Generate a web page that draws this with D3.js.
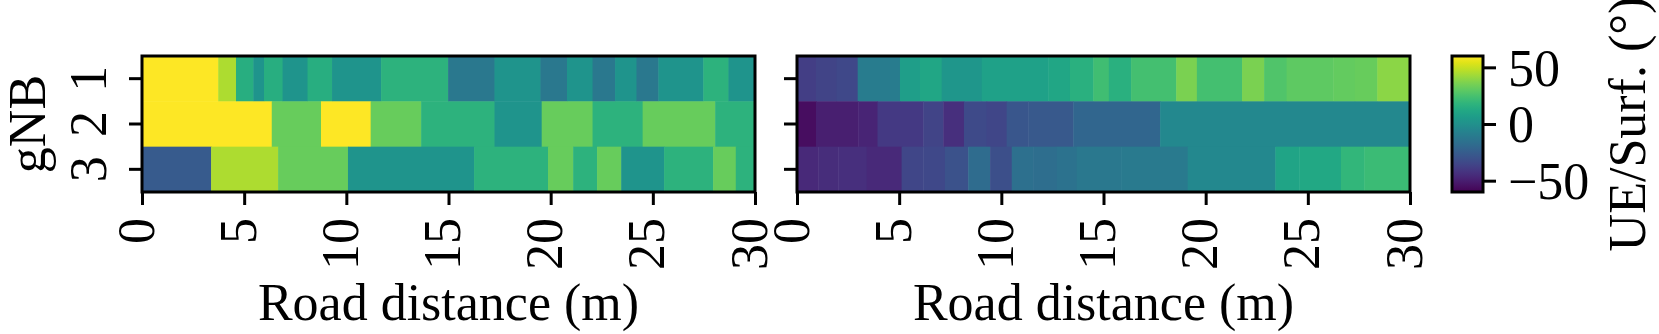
<!DOCTYPE html>
<html>
<head>
<meta charset="UTF-8">
<title>gNB heatmaps</title>
<script src="https://d3js.org/d3.v7.min.js"></script>
<style>
  body { margin: 0; background: #fff; }
  text { font-family: "Liberation Serif", "Times New Roman", serif; fill: #000; }
  .tick line { stroke: #000; stroke-width: 3; }
</style>
</head>
<body>
<script>
// rows of each heatmap
var gnbs = ["1", "2", "3"];
var xTicks = [0, 5, 10, 15, 20, 25, 30];
var cbTicks = [-50, 0, 50];

// left panel: start of every segment (m) and its value (deg), one list per gNB
var leftStarts = [
  [0, 3.73, 4.6, 5.45, 5.97, 6.88, 8.1, 9.3, 11.7, 14.98, 17.25, 19.5, 20.8, 22.05, 23.15, 24.2, 25.27, 27.47, 28.7],
  [0, 6.35, 8.76, 11.19, 13.66, 17.25, 19.56, 22.05, 24.5, 28.05],
  [0, 3.38, 6.66, 10.08, 16.25, 19.87, 21.1, 22.27, 23.45, 25.55, 27.95, 29.06]
];
var leftValues = [
  [64, 45, 15, 2, 15, 2, 15, 2, 17, -12, 2, -12, 2, -12, 2, -12, 2, 17, 2],
  [64, 32, 64, 32, 17, 2, 32, 17, 32, 17],
  [-26, 45, 32, 2, 17, 32, 17, 32, 2, 17, 32, 17]
];

// right panel
var rightStarts = [
  [0, 0.93, 1.94, 2.97, 5.04, 6.02, 7.08, 9.04, 12.3, 13.36, 14.5, 15.26, 16.35, 18.56, 19.57, 21.78, 22.86, 23.96, 26.24, 27.3, 28.4],
  [0, 0.93, 3.0, 3.94, 6.18, 7.16, 8.17, 9.28, 10.26, 11.32, 13.52, 17.77],
  [0, 1.04, 2.02, 3.41, 5.12, 6.18, 7.24, 8.38, 9.45, 10.51, 11.57, 12.71, 13.69, 15.86, 19.12, 23.41, 24.58, 26.62, 27.76]
];
var rightValues = [
  [-38, -36, -34, -10, 7, 11, 3, 8, 11, 16, 23, 16, 24, 36, 24, 36, 27, 30, 31, 32, 39],
  [-56, -50, -48, -40, -36, -44, -33, -35, -28, -27, -21, -4],
  [-46, -45, -44, -46, -35, -34, -30, -18, -31, -16, -17, -15, -12, -11, -4, 10, 12, 19, 22]
];

var W = 1659, H = 334;
var plotTop = 56, plotBottom = 192;
var panels = [
  {left: 142, right: 755, starts: leftStarts, values: leftValues, labels: true},
  {left: 797, right: 1410, starts: rightStarts, values: rightValues, labels: false}
];
var fs = 52;

var color = d3.scaleSequential(d3.interpolateViridis).domain([-60, 60]);

var svg = d3.select("body").append("svg")
    .attr("width", W)
    .attr("height", H);

panels.forEach(function (p) {
  var x = d3.scaleLinear().domain([0, 30]).range([p.left, p.right]);
  var y = d3.scaleBand().domain(gnbs).range([plotTop, plotBottom]);

  var g = svg.append("g");

  gnbs.forEach(function (row, i) {
    var st = p.starts[i];
    g.selectAll(null)
        .data(st)
        .enter().append("rect")
        .attr("x", function (d) { return x(d); })
        .attr("width", function (d, j) {
          var end = j + 1 < st.length ? st[j + 1] : 30;
          return x(end) - x(d) + 0.5;
        })
        .attr("y", y(row))
        .attr("height", y.bandwidth() + 0.5)
        .attr("fill", function (d, j) { return color(p.values[i][j]); });
  });

  g.append("rect")
      .attr("x", p.left).attr("y", plotTop)
      .attr("width", p.right - p.left).attr("height", plotBottom - plotTop)
      .attr("fill", "none").attr("stroke", "#000").attr("stroke-width", 3);

  var xa = g.append("g")
      .attr("transform", "translate(0," + plotBottom + ")")
      .call(d3.axisBottom(x).tickValues(xTicks).tickSize(13).tickSizeOuter(0));
  xa.select(".domain").remove();
  xa.selectAll("text")
      .attr("y", null).attr("dy", null)
      .attr("text-anchor", "end")
      .attr("transform", "translate(11,26) rotate(-90)")
      .style("font-size", fs + "px");

  var ya = g.append("g")
      .attr("transform", "translate(" + p.left + ",0)")
      .call(d3.axisLeft(y).tickSize(13).tickSizeOuter(0));
  ya.select(".domain").remove();
  if (p.labels) {
    ya.selectAll("text")
        .attr("x", null).attr("dy", null)
        .attr("text-anchor", "middle")
        .attr("transform", "translate(-36,0) rotate(-90)")
        .style("font-size", fs + "px");
  } else {
    ya.selectAll("text").remove();
  }

  g.append("text")
      .attr("x", (p.left + p.right) / 2)
      .attr("y", 320)
      .attr("text-anchor", "middle")
      .style("font-size", fs + "px")
      .text("Road distance (m)");
});

svg.append("text")
    .attr("transform", "translate(45," + (plotTop + plotBottom) / 2 + ") rotate(-90)")
    .attr("text-anchor", "middle")
    .style("font-size", fs + "px")
    .text("gNB");

// colour bar
var cbX = 1452, cbW = 31;
var cy = d3.scaleLinear().domain([-60, 60]).range([plotBottom, plotTop]);

var grad = svg.append("defs").append("linearGradient")
    .attr("id", "viridis")
    .attr("x1", 0).attr("y1", 1).attr("x2", 0).attr("y2", 0);
grad.selectAll("stop")
    .data(d3.range(0, 1.001, 0.05))
    .enter().append("stop")
    .attr("offset", function (d) { return d; })
    .attr("stop-color", function (d) { return d3.interpolateViridis(d); });

svg.append("rect")
    .attr("x", cbX).attr("y", plotTop)
    .attr("width", cbW).attr("height", plotBottom - plotTop)
    .attr("fill", "url(#viridis)")
    .attr("stroke", "#000").attr("stroke-width", 3);

var ca = svg.append("g")
    .attr("transform", "translate(" + (cbX + cbW) + ",0)")
    .call(d3.axisRight(cy).tickValues(cbTicks).tickSize(13).tickPadding(12).tickSizeOuter(0));
ca.select(".domain").remove();
ca.selectAll("text").style("font-size", fs + "px").attr("dy", "0.34em");

svg.append("text")
    .attr("transform", "translate(1645," + (plotTop + plotBottom) / 2 + ") rotate(-90)")
    .attr("text-anchor", "middle")
    .style("font-size", fs + "px")
    .text("UE/Surf. (°)");
</script>
</body>
</html>
